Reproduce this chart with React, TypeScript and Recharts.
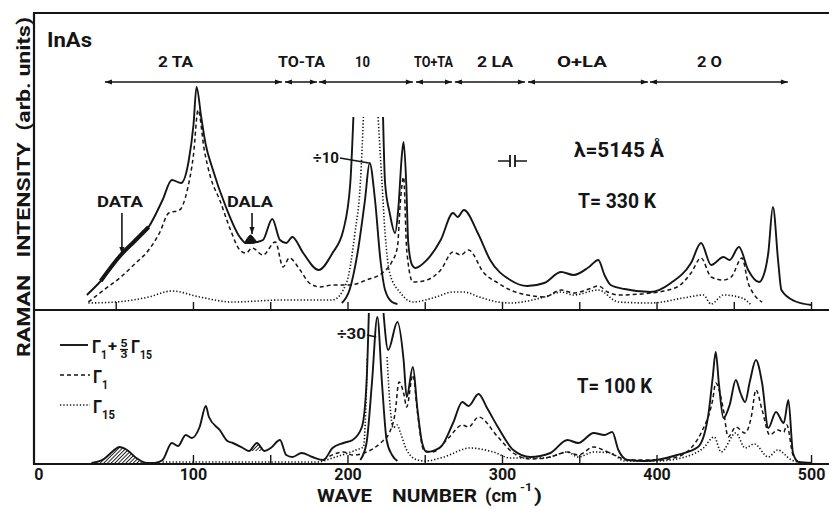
import React from "react";
import { ComposedChart, Line, Area, XAxis, YAxis, ReferenceLine } from "recharts";

// wave number (cm-1) / intensity (arb. units)
// upper panel, T = 330 K
const topSolidX = [31, 40, 53, 62, 71, 80, 86, 92, 97, 100, 102, 105, 108, 112, 121, 130, 134, 137, 141, 145, 151, 156, 160, 164, 171, 181, 190, 197, 201.5, 203.5, 213, 222.7, 224, 227, 230.5, 232.5, 235, 236, 237.7, 239, 241.5, 243.5, 251, 260, 268, 271, 275, 284, 292, 305, 316, 327, 338, 346, 356, 362, 366, 370, 379, 396, 409, 422, 428.5, 435, 443, 447, 453, 459, 466, 470, 472, 475, 478.5, 480.5, 489, 500];
const topSolidY = [10, 24, 50, 64, 78, 105, 125, 122, 145, 180, 218, 188, 160, 138, 98, 68, 62, 62, 63, 65, 86, 65, 62, 68, 52, 35, 52, 75, 122, 188, null, 188, 122, 92, 72, 95, 152, 163, 122, 62, 40, 37, 45, 65, 92, 88, 95, 72, 45, 25, 19, 22, 33, 30, 38, 45, 30, 20, 16, 13, 22, 42, 62, 40, 48, 45, 58, 35, 23, 35, 52, 98, 42, 15, 4, 0];

const topDashedX = [32, 42, 53, 62, 71, 78, 84, 91, 96, 100, 103, 107, 111, 117, 124, 130, 134, 138, 145, 153, 158, 162, 169, 175, 182, 190, 201, 212, 223, 228, 232, 234, 236, 238, 242, 251, 260, 268, 273, 278, 288, 297, 305, 316, 327, 338, 346, 356, 362, 368, 375, 396, 413, 422, 428.5, 435, 443, 448, 455, 459, 463, 468];
const topDashedY = [3, 15, 28, 41, 55, 72, 92, 95, 115, 150, 195, 155, 128, 105, 75, 55, 52, 57, 50, 63, 38, 47, 35, 22, 18, 20, 20, 25, 33, 42, 58, 105, 128, 55, 23, 25, 35, 53, 50, 55, 32, 22, 15, 10, 8, 15, 12, 16, 19, 13, 10, 12, 18, 32, 47, 28, 25, 28, 47, 22, 10, 3];

const topDottedX = [32, 50, 71, 86, 104, 125, 158, 190, 199, 204.5, 208, 210, 215, 219.5, 222, 224, 227, 234, 242, 255, 268, 275, 285, 297, 305, 327, 338, 346, 362, 375, 396, 417, 430, 435, 443, 455, 461];
const topDottedY = [2, 3, 8, 14, 8, 3, 5, 5, 22, 72, 122, 188, null, 188, 122, 72, 32, 12, 3, 7, 13, 13, 8, 3, 2, 8, 13, 10, 15, 3, 2, 7, 10, 1, 10, 7, 0];

// the 1O peak divided by 10
const topDiv10X = [196, 201, 206.5, 211, 214, 217.5, 221, 224, 228.5, 232];
const topDiv10Y = [2, 15, 55, 105, 142, 105, 45, 15, 3, 1];

// DALA bump (filled)
const dalaX = [133, 135, 137, 139, 141];
const dalaLo = [62, 62, 62, 62, 63];
const dalaHi = [62, 67, 70, 67, 63];

// lower panel, T = 100 K
const botSolidX = [34, 42, 48, 52, 57, 63, 70, 75, 80, 86, 90, 95, 99, 104, 108, 110, 117, 122, 125.5, 132, 136, 141, 146, 150, 156, 160, 164, 170, 177, 184, 190, 197, 203, 209, 212, 213.5, 219, 223, 226, 232, 236, 238, 242, 245, 248, 251, 260, 268, 274, 278, 284.5, 290, 297, 307, 318, 331, 342, 349, 359, 366, 371, 375, 381, 392, 413, 426.5, 433, 436, 438, 440, 443, 447, 451, 454, 457, 460, 464, 468, 472, 477, 482, 485, 488, 491.5, 500];
const botSolidY = [0, 4, 12, 16, 13, 5, 0, 0, 3, 20, 17, 28, 25, 36, 57, 46, 33, 22, 20, 15, 12, 20, 12, 15, 23, 8, 6, 10, 6, 3, 15, 20, 23, 36, 80, 150, null, 150, 113, 141, 103, 66, 96, 53, 20, 11, 16, 40, 61, 57, 69, 55, 36, 13, 6, 10, 23, 20, 30, 28, 31, 13, 3, 2, 8, 16, 46, 85, 111, 80, 45, 58, 83, 70, 61, 81, 103, 80, 35, 51, 40, 63, 10, 1, 0];

const botDashedX = [184, 197, 203, 212, 221, 227, 230.5, 233, 236, 238, 242, 245, 249, 255, 265, 274, 278, 284.5, 297, 307, 318, 331, 342, 349, 359, 368, 375, 381, 400, 413, 422, 428.5, 436, 438, 443, 446, 451, 457, 461, 464, 468, 473, 478, 482, 484, 488, 492];
const botDashedY = [3, 11, 8, 11, 20, 31, 50, 81, 70, 56, 88, 50, 13, 11, 25, 38, 36, 46, 26, 10, 4, 6, 11, 8, 16, 11, 6, 3, 3, 6, 15, 30, 63, 80, 53, 26, 36, 30, 46, 73, 53, 28, 33, 31, 38, 8, 1];

const botDottedX = [80, 180, 190, 200, 207, 210, 211.5, 212.5, 218, 225.3, 227.3, 229.2, 231.8, 234, 238, 245, 250, 262, 279, 294, 305, 327, 342, 349, 359, 370, 379, 400, 418, 430, 437, 441.5, 451, 457, 463, 472, 478, 487, 495];
const botDottedY = [1, 1, 5, 10, 14, 16, 53, 106, null, 106, 56, 35, 38, 30, 13, 3, 2, 6, 15, 11, 5, 5, 11, 6, 11, 10, 2, 2, 6, 15, 26, 11, 30, 15, 19, 6, 13, 3, 0];

// the 1O peak divided by 30
const botDiv30X = [208, 212, 215.5, 219, 222, 225, 228.5, 232];
const botDiv30Y = [3, 20, 80, 146, 80, 23, 8, 2];

// band assignments (arrows on top)
const bandFrom = [42.7, 159.2, 181.2, 244, 269.2, 316.5, 395.4];
const bandTo = [157.3, 179.9, 242, 267.3, 314.5, 394.1, 484.7];

const xTicks = [0, 100, 200, 300, 400, 500];
const topMinor = [50, 100, 150, 200, 250, 300, 350, 400, 450, 500];
const botMinor = [100, 150, 200, 250, 300, 350, 400, 500];

const pts = (xs: number[], ys: (number | null)[]) => xs.map((x, i) => ({ x, y: ys[i] }));
const range = (xs: number[], lo: number[], hi: number[]) => xs.map((x, i) => ({ x, r: [lo[i], hi[i]] }));

const INK = "#151515";
const FONT = "Roboto, 'DejaVu Sans', sans-serif";
const XDOM: [number, number] = [-3.2, 511.3];

const dataSeg = pts(topSolidX, topSolidY).filter((p) => p.x >= 34 && p.x <= 71);
const bump1 = botSolidX
  .map((x, i) => ({ x, r: [0, botSolidY[i] as number] }))
  .filter((p) => p.x >= 34 && p.x <= 70);
const bump2 = botSolidX
  .map((x, i) => ({ x, r: [12, botSolidY[i] as number] }))
  .filter((p) => p.x >= 136 && p.x <= 146);

const head = (x: number, y: number, a: number) => {
  const l = 7;
  const w = 2.6;
  const bx = x - l * Math.cos(a);
  const by = y - l * Math.sin(a);
  const nx = -Math.sin(a) * w;
  const ny = Math.cos(a) * w;
  return `${x},${y} ${bx + nx},${by + ny} ${bx - nx},${by - ny}`;
};

const arrow = (both: boolean) => (p: any) => {
  const { x1, y1, x2, y2 } = p;
  const a = Math.atan2(y2 - y1, x2 - x1);
  return (
    <g>
      <line x1={x1} y1={y1} x2={x2} y2={y2} stroke={INK} strokeWidth={1.6} />
      <polygon points={head(x2, y2, a)} fill={INK} />
      {both && <polygon points={head(x1, y1, a + Math.PI)} fill={INK} />}
    </g>
  );
};

const BoldTick = (p: any) => (
  <text x={p.x} y={p.y + 16} textAnchor="middle" fontSize={16} fontWeight={700} fontFamily={FONT} fill={INK}>
    {p.payload.value}
  </text>
);

const lineProps = {
  type: "monotone" as const,
  dataKey: "y",
  stroke: INK,
  dot: false,
  isAnimationActive: false,
  connectNulls: false,
};

const T = ({ x, y, w, s = 15, children, anchor = "start" }: any) => (
  <text
    x={x}
    y={y}
    fontSize={s}
    fontWeight={700}
    fontFamily={FONT}
    fill={INK}
    textAnchor={anchor}
    textLength={w}
    lengthAdjust="spacingAndGlyphs"
  >
    {children}
  </text>
);

const App = () => {
  return (
    <div style={{ position: "absolute", left: 0, top: 0, width: 829, height: 508, background: "#fff", overflow: "hidden" }}>
      {/* upper panel */}
      <div style={{ position: "absolute", left: 0, top: 0 }}>
        <ComposedChart width={829} height={508} margin={{ top: 13, right: 0, bottom: 198, left: 34 }}>
          <XAxis type="number" dataKey="x" domain={XDOM} hide allowDataOverflow />
          <YAxis type="number" domain={[-5, 292]} hide allowDataOverflow />
          <Area data={range(dalaX, dalaLo, dalaHi)} dataKey="r" type="monotone" fill={INK} fillOpacity={1} stroke={INK} strokeWidth={1} isAnimationActive={false} />
          <Line {...lineProps} data={pts(topDottedX, topDottedY)} strokeWidth={1.6} strokeDasharray="1.3 2" />
          <Line {...lineProps} data={pts(topDashedX, topDashedY)} strokeWidth={1.5} strokeDasharray="4 3" />
          <Line {...lineProps} data={pts(topSolidX, topSolidY)} strokeWidth={1.9} />
          <Line {...lineProps} data={pts(topDiv10X, topDiv10Y)} strokeWidth={1.9} />
          <Line {...lineProps} data={dataSeg} strokeWidth={4} />
          {topMinor.map((t) => (
            <ReferenceLine key={t} segment={[{ x: t, y: -5 }, { x: t, y: 3 }]} stroke={INK} strokeWidth={1.4} />
          ))}
          {bandFrom.map((f, i) => (
            <ReferenceLine key={"b" + i} segment={[{ x: f, y: 223 }, { x: bandTo[i], y: 223 }]} shape={arrow(true)} />
          ))}
          <ReferenceLine segment={[{ x: 53.7, y: 92 }, { x: 53.7, y: 51 }]} shape={arrow(false)} />
          <ReferenceLine segment={[{ x: 137.9, y: 92 }, { x: 137.9, y: 71 }]} shape={arrow(false)} />
          <ReferenceLine segment={[{ x: 194.8, y: 147 }, { x: 213.5, y: 142 }]} stroke={INK} strokeWidth={1.4} />
        </ComposedChart>
      </div>

      {/* lower panel */}
      <div style={{ position: "absolute", left: 0, top: 0 }}>
        <ComposedChart width={829} height={508} margin={{ top: 310, right: 0, bottom: 14, left: 34 }}>
          <defs>
            <pattern id="hatch" width="2.6" height="2.6" patternUnits="userSpaceOnUse" patternTransform="rotate(45)">
              <rect width="2.6" height="2.6" fill="#fff" />
              <line x1="0" y1="0" x2="0" y2="2.6" stroke={INK} strokeWidth="1.9" />
            </pattern>
          </defs>
          <XAxis
            type="number"
            dataKey="x"
            domain={XDOM}
            ticks={xTicks}
            height={30}
            tickSize={0}
            tickMargin={0}
            tickLine={false}
            axisLine={{ stroke: INK, strokeWidth: 2 }}
            tick={<BoldTick />}
            allowDataOverflow
          />
          <YAxis type="number" domain={[-1, 153]} hide allowDataOverflow />
          <Area data={bump1} dataKey="r" type="monotone" fill="url(#hatch)" fillOpacity={1} stroke="none" isAnimationActive={false} />
          <Area data={bump2} dataKey="r" type="monotone" fill="url(#hatch)" fillOpacity={1} stroke="none" isAnimationActive={false} />
          <Line {...lineProps} data={pts(botDottedX, botDottedY)} strokeWidth={1.6} strokeDasharray="1.3 2" />
          <Line {...lineProps} data={pts(botDashedX, botDashedY)} strokeWidth={1.5} strokeDasharray="4 3" />
          <Line {...lineProps} data={pts(botSolidX, botSolidY)} strokeWidth={1.9} />
          <Line {...lineProps} data={pts(botDiv30X, botDiv30Y)} strokeWidth={1.9} />
          {botMinor.map((t) => (
            <ReferenceLine key={t} segment={[{ x: t, y: -1 }, { x: t, y: 8 }]} stroke={INK} strokeWidth={1.4} />
          ))}
          <ReferenceLine segment={[{ x: 212.3, y: 128 }, { x: 218.3, y: 126 }]} stroke={INK} strokeWidth={1.4} />
        </ComposedChart>
      </div>

      {/* frame and text */}
      <svg width={829} height={508} style={{ position: "absolute", left: 0, top: 0, pointerEvents: "none" }}>
        <line x1={34} y1={12} x2={34} y2={465} stroke={INK} strokeWidth={2.2} />
        <line x1={33} y1={13} x2={829} y2={13} stroke={INK} strokeWidth={2.2} />
        <line x1={34} y1={310} x2={829} y2={310} stroke={INK} strokeWidth={2.2} />

        <T x={47} y={47} w={45} s={20}>InAs</T>
        <text
          transform="rotate(-90)"
          x={-357}
          y={30}
          fontSize={19}
          fontWeight={700}
          fontFamily={FONT}
          fill={INK}
          textLength={340}
          lengthAdjust="spacingAndGlyphs"
          style={{ whiteSpace: "pre" }}
        >
          {"RAMAN   INTENSITY  (arb. units)"}
        </text>

        <T x={158} y={67} w={35}>2 TA</T>
        <T x={278} y={67} w={47}>TO-TA</T>
        <T x={355} y={67} w={15}>10</T>
        <T x={414} y={67} w={39}>TO+TA</T>
        <T x={477} y={67} w={36}>2 LA</T>
        <T x={557} y={67} w={50}>O+LA</T>
        <T x={697} y={67} w={25}>2 O</T>

        <T x={97} y={207} w={46} s={14}>DATA</T>
        <T x={227} y={207} w={46} s={14}>DALA</T>
        <T x={313} y={163} w={26} s={15}>÷10</T>
        <T x={337} y={339} w={29} s={15}>÷30</T>

        <T x={574} y={157} w={90} s={20}>λ=5145 Å</T>
        <T x={578} y={208} w={78} s={20}>T= 330 K</T>
        <T x={577} y={393} w={75} s={20}>T= 100 K</T>

        {/* spectral slit width */}
        <line x1={498} y1={161} x2={510} y2={161} stroke={INK} strokeWidth={1.5} />
        <line x1={515} y1={161} x2={527} y2={161} stroke={INK} strokeWidth={1.5} />
        <line x1={510} y1={155} x2={510} y2={167} stroke={INK} strokeWidth={1.8} />
        <line x1={515} y1={155} x2={515} y2={167} stroke={INK} strokeWidth={1.8} />

        {/* legend */}
        <line x1={60} y1={345} x2={88} y2={345} stroke={INK} strokeWidth={1.9} />
        <line x1={60} y1={375} x2={90} y2={375} stroke={INK} strokeWidth={1.5} strokeDasharray="4 3" />
        <line x1={60} y1={405} x2={90} y2={405} stroke={INK} strokeWidth={1.6} strokeDasharray="1.3 2" />
        <T x={92} y={353} w={9} s={19}>Γ</T>
        <T x={101} y={359} w={6} s={12}>1</T>
        <T x={108} y={351} w={9} s={15}>+</T>
        <T x={124} y={347} w={7} s={11} anchor="middle">5</T>
        <line x1={120} y1={349.5} x2={128} y2={349.5} stroke={INK} strokeWidth={1.2} />
        <T x={124} y={358} w={7} s={11} anchor="middle">3</T>
        <T x={131} y={353} w={9} s={19}>Γ</T>
        <T x={140} y={359} w={12} s={12}>15</T>
        <T x={93} y={383} w={9} s={19}>Γ</T>
        <T x={102} y={389} w={6} s={12}>1</T>
        <T x={93} y={413} w={9} s={19}>Γ</T>
        <T x={102} y={419} w={13} s={12}>15</T>

        <T x={317} y={502} w={55} s={19}>WAVE</T>
        <T x={392} y={502} w={85} s={19}>NUMBER</T>
        <T x={485} y={502} w={32} s={19}>(cm</T>
        <T x={520} y={491} w={12} s={11}>-1</T>
        <T x={534} y={502} w={8} s={19}>)</T>
      </svg>
    </div>
  );
};

export default App;
